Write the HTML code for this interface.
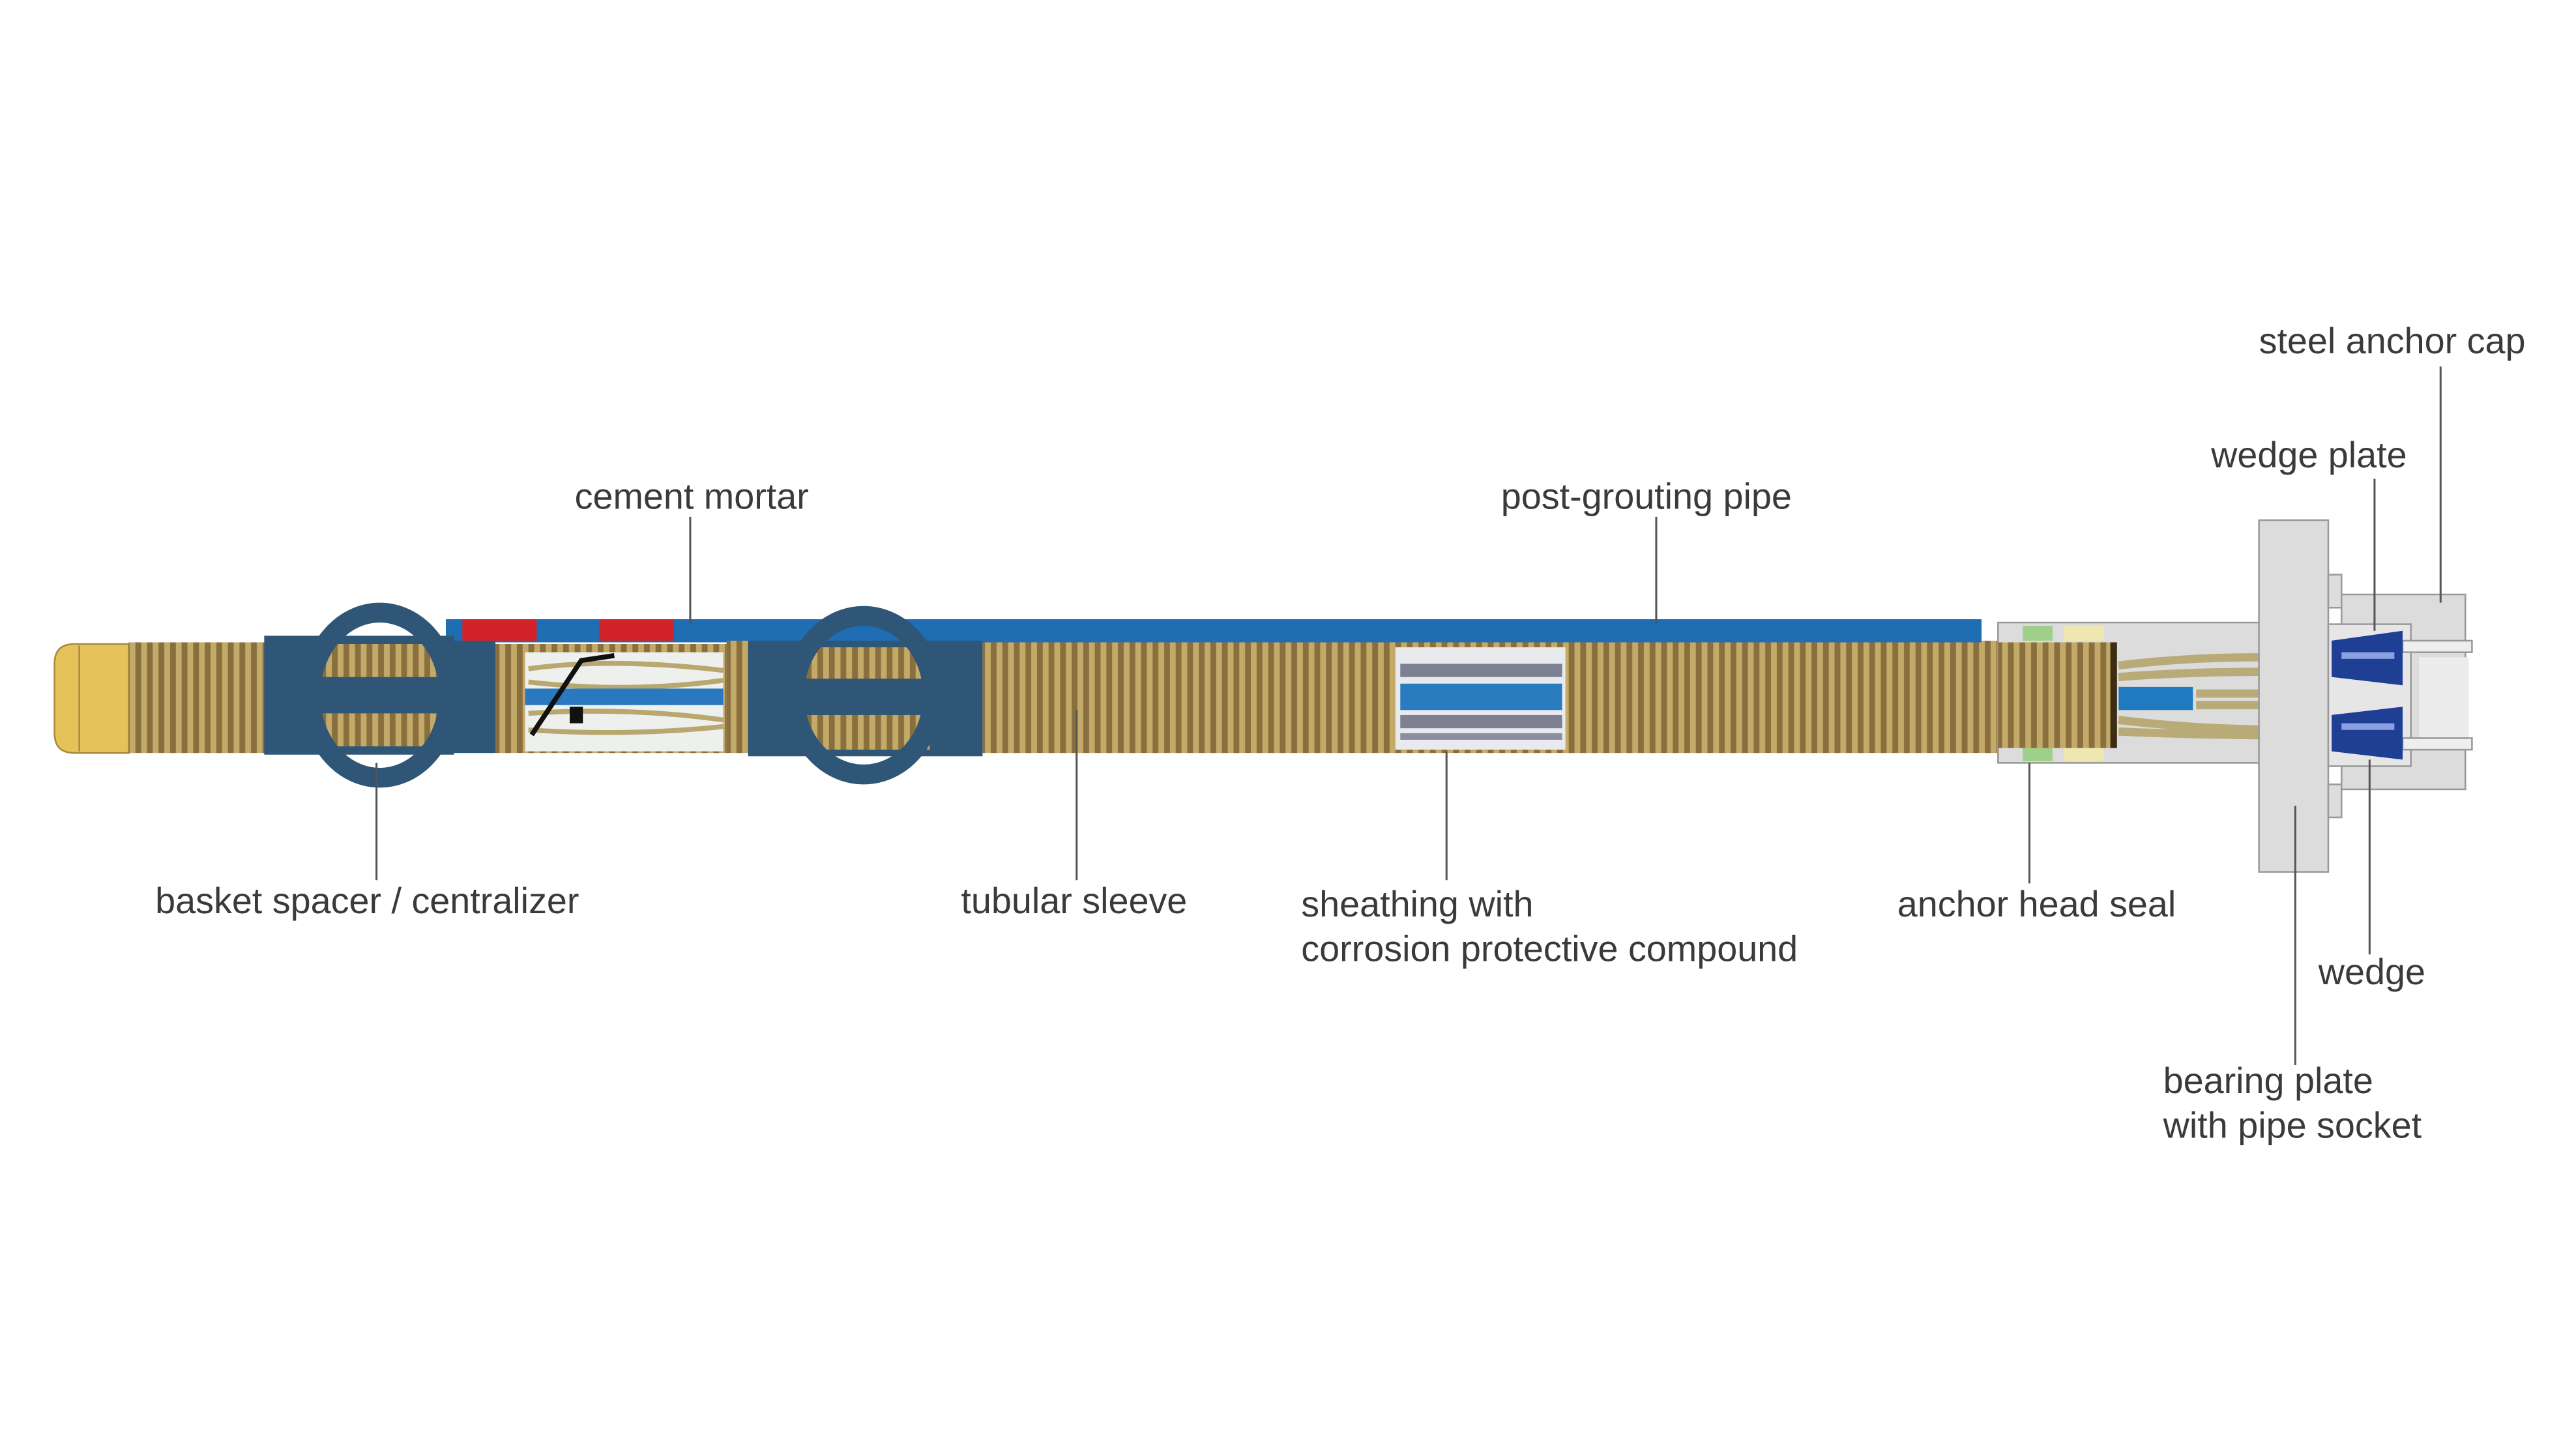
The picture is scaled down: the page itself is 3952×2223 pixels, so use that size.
<!DOCTYPE html>
<html><head><meta charset="utf-8"><style>
html,body{margin:0;padding:0;background:#fff;}
svg{display:block;}
text{font-family:"Liberation Sans",sans-serif;font-size:22px;fill:#3a3a3a;}
</style></head><body>
<svg width="3952" height="2223" viewBox="0 0 1560 877.5" xmlns="http://www.w3.org/2000/svg">
<defs>
<pattern id="rib" width="7" height="10" patternUnits="userSpaceOnUse">
<rect width="7" height="10" fill="#8a6f3e"/>
<rect x="1.5" width="3.5" height="10" fill="#c4aa68"/>
</pattern>
</defs>
<rect width="1560" height="877.5" fill="#fff"/>

<path d="M78 390 H45 Q33 390 33 402 V444 Q33 456 45 456 H78 Z" fill="#e5c35a" stroke="#a88a3a" stroke-width="1"/>
<line x1="48" y1="391" x2="48" y2="455" stroke="#a88a3a" stroke-width="1"/>
<rect x="78" y="389" width="85" height="67" fill="url(#rib)"/>
<rect x="595" y="388" width="687" height="68" fill="url(#rib)"/>
<rect x="1278" y="390" width="4" height="64" fill="#3d2d15"/>

<rect x="270" y="375" width="930" height="14" fill="#1f6db3"/>
<rect x="280" y="375" width="45" height="13" fill="#d2232a"/>
<rect x="363" y="375" width="45" height="13" fill="#d2232a"/>

<rect x="160" y="385" width="115" height="72" fill="#2f5676"/>
<rect x="190" y="390" width="78" height="62" fill="url(#rib)"/>
<rect x="190" y="410" width="78" height="22" fill="#2f5676"/>
<ellipse cx="230" cy="421" rx="42" ry="50" fill="none" stroke="#2f5676" stroke-width="12"/>
<rect x="270" y="388" width="30" height="68" fill="#2f5676"/>

<rect x="300" y="390" width="140" height="66" fill="url(#rib)"/>
<rect x="318" y="395" width="120" height="60" fill="#eef0ee"/>
<g stroke="#b8a870" stroke-width="3" fill="none">
<path d="M320 405 Q370 398 438 406"/><path d="M320 413 Q380 420 438 412"/>
<path d="M320 432 Q380 428 438 436"/><path d="M320 442 Q380 446 438 440"/>
</g>
<rect x="318" y="417" width="120" height="10" fill="#2a78c0"/>
<path d="M322 445 L352 400 L372 397" stroke="#111" stroke-width="3" fill="none"/>
<rect x="345" y="428" width="8" height="10" fill="#111"/>

<rect x="440" y="388" width="15" height="68" fill="url(#rib)"/>
<rect x="453" y="388" width="142" height="70" fill="#2f5676"/>
<rect x="485" y="392" width="78" height="62" fill="url(#rib)"/>
<rect x="485" y="411" width="78" height="22" fill="#2f5676"/>
<ellipse cx="523" cy="421" rx="42" ry="48" fill="none" stroke="#2f5676" stroke-width="12"/>

<rect x="845" y="392" width="103" height="62" fill="#e9eaee"/>
<rect x="848" y="402" width="98" height="8" fill="#7d7f92"/>
<rect x="848" y="414" width="98" height="16" fill="#2a7cc0"/>
<rect x="848" y="433" width="98" height="8" fill="#7d7f92"/>
<rect x="848" y="444" width="98" height="4" fill="#8c8ea0"/>

<rect x="1210" y="377" width="160" height="85" fill="#dcdcdc" stroke="#999" stroke-width="1"/>
<rect x="1225" y="379" width="18" height="9" fill="#9fd08a"/>
<rect x="1250" y="379" width="24" height="9" fill="#efe7b0"/>
<rect x="1225" y="452" width="18" height="9" fill="#9fd08a"/>
<rect x="1250" y="452" width="24" height="9" fill="#efe7b0"/>
<rect x="1210" y="389" width="72" height="64" fill="url(#rib)"/>
<rect x="1278" y="389" width="4" height="64" fill="#3d2d15"/>
<g stroke="#b9ab78" stroke-width="5" fill="none">
<path d="M1283 403 Q1350 395 1415 400"/><path d="M1283 410 Q1350 405 1415 408"/>
<path d="M1330 420 L1470 420"/><path d="M1330 427 L1470 427"/>
<path d="M1283 436 Q1350 444 1415 441"/><path d="M1283 443 Q1350 446 1415 445"/>
</g>
<rect x="1283" y="416" width="45" height="14" fill="#1f7ac0"/>

<rect x="1368" y="315" width="42" height="213" fill="#dcdcdc" stroke="#999" stroke-width="1"/>
<rect x="1410" y="348" width="8" height="20" fill="#ddd" stroke="#999" stroke-width="1"/>
<rect x="1410" y="475" width="8" height="20" fill="#ddd" stroke="#999" stroke-width="1"/>
<rect x="1418" y="360" width="75" height="118" fill="#dcdcdc" stroke="#999" stroke-width="1"/>
<rect x="1410" y="378" width="50" height="86" fill="#e6e6e6" stroke="#999" stroke-width="1"/>
<rect x="1465" y="398" width="30" height="50" fill="#ececec"/>
<rect x="1455" y="388" width="42" height="7" fill="#eee" stroke="#999" stroke-width="1"/>
<rect x="1455" y="447" width="42" height="7" fill="#eee" stroke="#999" stroke-width="1"/>
<path d="M1412 388 L1455 382 L1455 415 L1412 410 Z" fill="#1f3f95"/>
<rect x="1418" y="395" width="32" height="4" fill="#8aa0e0"/>
<path d="M1412 433 L1455 428 L1455 460 L1412 455 Z" fill="#1f3f95"/>
<rect x="1418" y="438" width="32" height="4" fill="#8aa0e0"/>

<g stroke="#555" stroke-width="1.2">
<line x1="418" y1="313" x2="418" y2="378"/>
<line x1="1003" y1="313" x2="1003" y2="378"/>
<line x1="228" y1="462" x2="228" y2="533"/>
<line x1="652" y1="430" x2="652" y2="533"/>
<line x1="876" y1="455" x2="876" y2="533"/>
<line x1="1229" y1="462" x2="1229" y2="535"/>
<line x1="1478" y1="222" x2="1478" y2="365"/>
<line x1="1438" y1="290" x2="1438" y2="382"/>
<line x1="1435" y1="460" x2="1435" y2="578"/>
<line x1="1390" y1="488" x2="1390" y2="645"/>
</g>

<text x="348" y="308">cement mortar</text>
<text x="909" y="308">post-grouting pipe</text>
<text x="1368" y="214">steel anchor cap</text>
<text x="1339" y="283">wedge plate</text>
<text x="94" y="553">basket spacer / centralizer</text>
<text x="582" y="553">tubular sleeve</text>
<text x="788" y="555">sheathing with</text>
<text x="788" y="582">corrosion protective compound</text>
<text x="1149" y="555">anchor head seal</text>
<text x="1404" y="596">wedge</text>
<text x="1310" y="662">bearing plate</text>
<text x="1310" y="689">with pipe socket</text>
</svg>
</body></html>
